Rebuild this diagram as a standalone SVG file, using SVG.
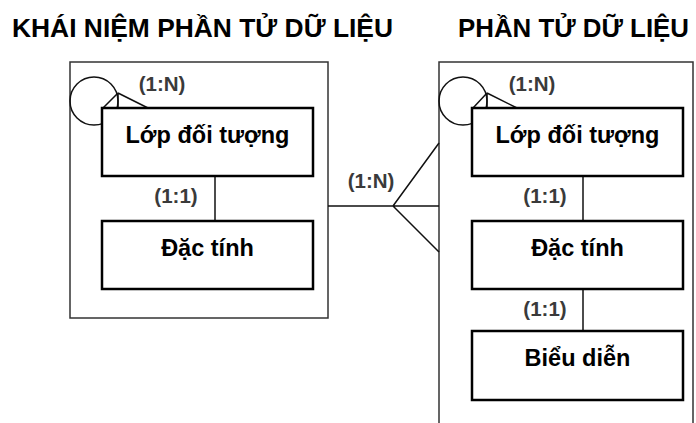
<svg xmlns="http://www.w3.org/2000/svg" width="696" height="423" viewBox="0 0 696 423">
  <style>
    .title { font-family: "Liberation Sans", Arial, sans-serif; font-weight: bold; font-size: 26px; fill: #000; }
    .frame { fill: none; stroke: #333; stroke-width: 1.5; }
    .box { fill: #fff; stroke: #000; stroke-width: 2.5; }
    .label { font-family: "Liberation Sans", Arial, sans-serif; font-weight: bold; font-size: 23.5px; fill: #000; text-anchor: middle; }
    .card { font-family: "Liberation Sans", Arial, sans-serif; font-weight: bold; font-size: 20.5px; fill: #3a3a3a; text-anchor: middle; }
    .line { fill: none; stroke: #111; stroke-width: 1.5; }
  </style>
  <rect width="696" height="423" fill="#fff"/>

  <!-- headings -->
  <text class="title" x="12" y="37" textLength="381" lengthAdjust="spacingAndGlyphs">KHÁI NIỆM PHẦN TỬ DỮ LIỆU</text>
  <text class="title" x="458" y="37" textLength="231" lengthAdjust="spacingAndGlyphs">PHẦN TỬ DỮ LIỆU</text>

  <!-- containers -->
  <g id="concept-frame">
    <rect class="frame" x="70" y="62" width="258" height="256"/>
  </g>
  <g id="element-frame">
    <rect class="frame" x="439" y="62" width="254" height="380"/>
  </g>

  <!-- connectors -->
  <g id="connectors">
    <!-- recursive 1:N on object class (left) -->
    <circle class="line" cx="94" cy="101" r="24"/>
    <path class="line" d="M118 93 L103 108 M118 93 L118 108 M118 93 L148 108"/>
    <!-- recursive 1:N on object class (right) -->
    <circle class="line" cx="463" cy="101" r="24"/>
    <path class="line" d="M487 93 L473 108 M487 93 L487 108 M487 93 L517 108"/>
    <!-- 1:1 links -->
    <line class="line" x1="215" y1="176" x2="215" y2="221"/>
    <line class="line" x1="583" y1="176" x2="583" y2="221"/>
    <line class="line" x1="583" y1="290" x2="583" y2="331"/>
    <!-- 1:N between the two frames -->
    <path class="line" d="M328 206 L439 206 M393 206 L439 143 M393 206 L439 252"/>
  </g>

  <!-- cardinality labels -->
  <text class="card" x="162" y="91">(1:N)</text>
  <text class="card" x="532" y="91">(1:N)</text>
  <text class="card" x="176" y="203">(1:1)</text>
  <text class="card" x="545" y="203">(1:1)</text>
  <text class="card" x="545" y="316">(1:1)</text>
  <text class="card" x="371" y="188">(1:N)</text>

  <!-- concept side nodes -->
  <g id="concept-object-class">
    <rect class="box" x="102" y="108" width="211" height="68"/>
    <text class="label" x="207.5" y="143">Lớp đối tượng</text>
  </g>
  <g id="concept-property">
    <rect class="box" x="102" y="221" width="211" height="68"/>
    <text class="label" x="207.5" y="256">Đặc tính</text>
  </g>

  <!-- data element side nodes -->
  <g id="element-object-class">
    <rect class="box" x="472" y="108" width="211" height="68"/>
    <text class="label" x="577.5" y="143">Lớp đối tượng</text>
  </g>
  <g id="element-property">
    <rect class="box" x="472" y="221" width="211" height="68"/>
    <text class="label" x="577.5" y="256">Đặc tính</text>
  </g>
  <g id="element-representation">
    <rect class="box" x="472" y="331" width="211" height="69"/>
    <text class="label" x="577.5" y="366">Biểu diễn</text>
  </g>
</svg>
